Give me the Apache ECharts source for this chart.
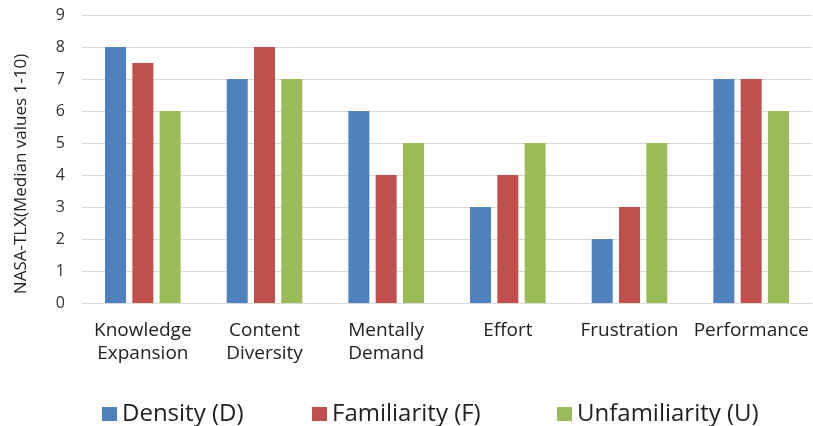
<!DOCTYPE html>
<html>
<head>
<meta charset="utf-8">
<script src="https://cdn.jsdelivr.net/npm/echarts@6/dist/echarts.min.js"></script>
<style>
  html, body { margin: 0; padding: 0; background: #fff; }
  #chart { width: 813px; height: 426px; }
</style>
</head>
<body>
<div id="chart"></div>
<script>
// Categories and median NASA-TLX scores per condition
var categories = ['Knowledge\nExpansion', 'Content\nDiversity', 'Mentally\nDemand', 'Effort', 'Frustration', 'Performance'];
var densityValues = [8, 7, 6, 3, 2, 7];
var familiarityValues = [7.5, 8, 4, 4, 3, 7];
var unfamiliarityValues = [6, 7, 5, 5, 5, 6];
var seriesNames = ['Density (D)', 'Familiarity (F)', 'Unfamiliarity (U)'];
var yTicks = [0, 9, 1];

var font = '"Open Sans", sans-serif';
var colors = ['#4F81BD', '#C0504D', '#9BBB59'];
var legendLefts = [97, 307, 552];

// one legend block per series so each entry sits at its own column
var legends = seriesNames.map(function (name, i) {
  return {
    left: legendLefts[i],
    top: 397,
    itemWidth: 15,
    itemHeight: 14,
    icon: 'rect',
    textStyle: { fontSize: 24, color: '#222', fontFamily: font },
    data: [name]
  };
});

var chart = echarts.init(document.getElementById('chart'));
chart.setOption({
  animation: false,
  color: colors,
  textStyle: { fontFamily: font },
  grid: { left: 82, right: 1, top: 15, bottom: 123 },
  legend: legends,
  xAxis: {
    type: 'category',
    data: categories,
    axisTick: { show: false },
    axisLine: { show: true, lineStyle: { color: '#d9d9d9' } },
    axisLabel: { fontSize: 19, color: '#222', margin: 16, lineHeight: 23, interval: 0, fontFamily: font }
  },
  yAxis: {
    type: 'value',
    min: yTicks[0],
    max: yTicks[1],
    interval: yTicks[2],
    name: 'NASA-TLX(Median values 1-10)',
    nameLocation: 'middle',
    nameGap: 52,
    nameTextStyle: { fontSize: 17, color: '#222', fontFamily: font, padding: [0, 30, 0, 0] },
    axisLine: { show: false },
    axisTick: { show: false },
    axisLabel: { fontSize: 16, color: '#333', margin: 17, fontFamily: font },
    splitLine: { lineStyle: { color: '#d9d9d9', width: 1 } }
  },
  series: [
    { name: seriesNames[0], type: 'bar', data: densityValues, barWidth: 21, barGap: '30%' },
    { name: seriesNames[1], type: 'bar', data: familiarityValues, barWidth: 21, barGap: '30%' },
    { name: seriesNames[2], type: 'bar', data: unfamiliarityValues, barWidth: 21, barGap: '30%' }
  ]
});
</script>
</body>
</html>
